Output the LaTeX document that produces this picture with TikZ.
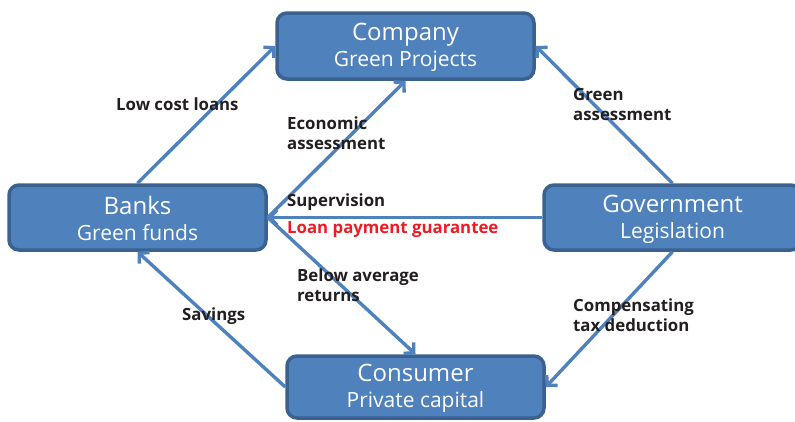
\documentclass[tikz,border=0pt]{standalone}
\usepackage{fontspec}
\setmainfont{Open Sans}
\usetikzlibrary{arrows.meta}
\definecolor{boxfill}{HTML}{4F81BD}
\definecolor{boxline}{HTML}{3A6190}
\definecolor{arrowc}{HTML}{4F81BD}
\definecolor{labtext}{HTML}{231F20}
\definecolor{labred}{HTML}{ED1C24}
\newcommand{\titleline}[1]{{\rule{0pt}{21pt}\fontsize{24}{26}\selectfont #1}}
\begin{document}
\begin{tikzpicture}[x=1pt,y=-1pt,
 entity/.style={draw=boxline, fill=boxfill, line width=3.5pt, rounded corners=10pt,
   text=white, align=center, inner sep=0pt, font=\fontsize{21}{26}\selectfont},
 flow/.style={draw=arrowc, line width=3.4pt, -{Straight Barb[length=7pt,width=15pt]}},
 lab/.style={anchor=base west, inner sep=0pt, align=left, text=labtext,
   font=\bfseries\fontsize{16.8}{19.5}\selectfont}]
\useasboundingbox (0,0) rectangle (795,421);
\node[entity, minimum width=257pt, minimum height=66pt] (company) at (405.5,46)
  {\titleline{Company}\\Green Projects};
\node[entity, minimum width=257pt, minimum height=65pt] (banks) at (137.5,217.5)
  {\titleline{Banks}\\Green funds};
\node[entity, minimum width=257pt, minimum height=65pt] (gov) at (672.5,217.5)
  {\titleline{Government}\\Legislation};
\node[entity, minimum width=257pt, minimum height=62pt] (consumer) at (415.5,387)
  {\titleline{Consumer}\\Private capital};
\draw[flow] (banks.north) -- (company.west);
\draw[flow] (banks.east) -- (company.south);
\draw[flow] (gov.north) -- (company.east);
\draw[flow] (gov.west) -- (banks.east);
\draw[flow] (banks.east) -- (consumer.north);
\draw[flow] (consumer.west) -- (banks.south);
\draw[flow] (gov.south) -- (consumer.east);
\node[lab] (lcl) at (116,110) {Low cost loans};
\node[lab] (eco) at (287,149) {Economic\\assessment};
\node[lab] (grn) at (573,120) {Green\\assessment};
\node[lab] (sup) at (287,206) {Supervision};
\node[lab, text=labred] (lpg) at (287,233) {Loan payment guarantee};
\node[lab] (bar) at (297,301) {Below average\\returns};
\node[lab] (sav) at (182,320) {Savings};
\node[lab] (ctd) at (573,331) {Compensating\\tax deduction};
\end{tikzpicture}
\end{document}
